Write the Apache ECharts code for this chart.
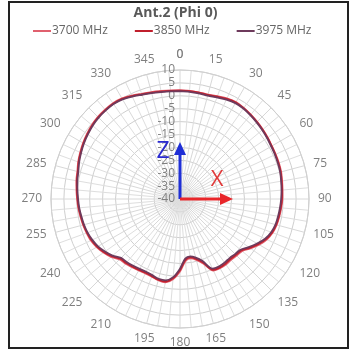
<!DOCTYPE html>
<html>
<head>
<meta charset="utf-8">
<script src="https://cdn.jsdelivr.net/npm/echarts@6/dist/echarts.min.js"></script>
<style>
  html, body { margin: 0; padding: 0; background: #fff; }
  #chart { width: 351px; height: 352px; }
</style>
</head>
<body>
<div id="chart"></div>
<script>
// angles every 5 degrees, gain in dBi
var angles = [];
for (var a = 0; a < 360; a += 5) angles.push(a);

// angle tick labels
var angleLabels = [0, 15, 30, 45, 60, 75, 90, 105, 120, 135, 150, 165,
  180, 195, 210, 225, 240, 255, 270, 285, 300, 315, 330, 345];

var seriesNames = ["3700 MHz", "3850 MHz", "3975 MHz"];
var seriesColors = ["#e0606e", "#c01f2c", "#6e3a5c"];

var gain3700 = [
  2.2, 2.1, 2.0, 1.9, 2.4, 3.0, 3.4, 3.1, 2.7, 2.3, 1.9, 1.5,
  1.1, 0.9, 0.8, 0.6, 0.2, -0.1, -0.3, -0.6, -0.9, -1.2, -1.8, -2.9,
  -4.6, -6.6, -8.6, -9.0, -9.2, -9.0, -9.0, -9.4, -13.3, -15.6, -16.6, -15.8,
  -11.9, -8.8, -7.2, -7.4, -8.0, -8.2, -8.0, -7.7, -7.2, -6.9, -5.1, -3.8,
  -2.7, -1.9, -1.5, -1.1, -0.8, -0.4, -0.1, 0.3, 0.8, 1.2, 2.0, 2.7,
  3.4, 4.0, 4.6, 5.0, 5.2, 5.3, 5.0, 4.2, 3.4, 2.9, 2.5, 2.3
];

var gain3850 = [
  2.0, 2.0, 1.9, 1.8, 2.2, 2.8, 3.2, 3.0, 2.6, 2.2, 1.8, 1.4,
  1.0, 0.8, 0.6, 0.4, 0.0, -0.3, -0.5, -0.8, -1.1, -1.4, -2.0, -3.2,
  -5.0, -7.0, -9.0, -9.4, -9.6, -9.4, -9.3, -9.7, -13.8, -16.0, -17.0, -16.3,
  -12.5, -9.2, -7.5, -7.6, -8.2, -8.5, -8.3, -8.0, -7.6, -7.3, -5.5, -4.1,
  -3.0, -2.2, -1.7, -1.3, -1.0, -0.6, -0.3, 0.1, 0.6, 1.0, 1.8, 2.5,
  3.2, 3.8, 4.4, 4.8, 5.0, 5.1, 4.8, 4.0, 3.2, 2.7, 2.3, 2.1
];

var gain3975 = [
  1.8, 1.7, 1.6, 1.5, 1.9, 2.5, 2.9, 2.8, 2.4, 2.0, 1.6, 1.2,
  0.8, 0.6, 0.4, 0.2, -0.2, -0.5, -0.8, -1.1, -1.4, -1.7, -2.4, -3.6,
  -5.5, -7.5, -9.4, -9.8, -10.1, -9.9, -9.8, -10.2, -14.4, -16.5, -17.4, -16.8,
  -13.0, -9.6, -8.0, -8.0, -8.6, -8.9, -8.7, -8.4, -8.0, -7.7, -5.9, -4.5,
  -3.3, -2.5, -1.9, -1.5, -1.2, -0.8, -0.5, -0.1, 0.4, 0.8, 1.6, 2.3,
  3.0, 3.6, 4.2, 4.6, 4.8, 4.9, 4.6, 3.8, 3.0, 2.5, 2.1, 1.9
];

var allGains = [gain3700, gain3850, gain3975];

function toPolar(gains) {
  var pts = gains.map(function (g, i) { return [g, angles[i]]; });
  pts.push([gains[0], 360]);
  return pts;
}

var cx = 180, cy = 199, R = 129;

var chart = echarts.init(document.getElementById("chart"), null, { renderer: "canvas" });

var option = {
  backgroundColor: "#fff",
  animation: false,
  textStyle: { fontFamily: "Open Sans" },
  title: {
    text: "Ant.2 (Phi 0)",
    left: "center",
    top: 1,
    textStyle: { fontSize: 14, fontWeight: "bold", color: "#595959", fontFamily: "Open Sans" }
  },
  legend: {
    top: 20,
    left: 28,
    icon: "rect",
    itemWidth: 18,
    itemHeight: 2,
    itemGap: 27,
    textStyle: { fontSize: 12, color: "#666", padding: [0, 0, 0, -4] },
    data: seriesNames
  },
  polar: { center: [cx, cy], radius: R },
  angleAxis: {
    type: "value",
    min: 0,
    max: 360,
    interval: 15,
    startAngle: 90,
    clockwise: true,
    axisLine: { lineStyle: { color: "#d0d0d0" } },
    axisTick: { show: false },
    axisLabel: {
      color: "#7f7f7f",
      fontSize: 12,
      margin: 9,
      hideOverlap: false,
      customValues: angleLabels
    },
    splitLine: { lineStyle: { color: "#d8d8d8", width: 1 } },
    minorTick: { show: false, splitNumber: 3 },
    minorSplitLine: { show: true, lineStyle: { color: "#dedede", width: 1 } }
  },
  radiusAxis: {
    min: -40,
    max: 10,
    interval: 5,
    axisLine: { show: false },
    axisTick: { show: false },
    axisLabel: { color: "#7f7f7f", fontSize: 12, margin: 5, hideOverlap: false },
    splitLine: { show: true, lineStyle: { color: "#cfcfcf", width: 1 } }
  },
  series: seriesNames.map(function (name, i) {
    return {
      name: name,
      type: "line",
      coordinateSystem: "polar",
      showSymbol: false,
      smooth: 0.3,
      color: seriesColors[i],
      lineStyle: { width: 1.8 },
      data: toPolar(allGains[i])
    };
  }),
  graphic: [
    // outer frame
    { type: "rect", shape: { x: 9, y: 2, width: 339, height: 346 }, style: { fill: "none", stroke: "#222", lineWidth: 2 }, z: 100 },
    // the 0 degree label is dropped by the angle axis (it coincides with 360)
    { type: "text", x: cx, y: cy - R - 15, style: { text: String(angleLabels[0]), fill: "#7f7f7f", fontSize: 12, fontFamily: "Open Sans", align: "center", verticalAlign: "middle" }, z: 50 },
    // Z axis arrow
    { type: "line", shape: { x1: cx, y1: cy, x2: cx, y2: 152 }, style: { stroke: "#1f2fd6", lineWidth: 3 }, z: 100 },
    { type: "polygon", shape: { points: [[cx, 142], [cx - 6, 155], [cx + 6, 155]] }, style: { fill: "#1f2fd6" }, z: 100 },
    { type: "text", x: 163, y: 151, style: { text: "Z", fill: "#2a2ad0", fontSize: 23, fontFamily: "Open Sans", align: "center", verticalAlign: "middle" }, z: 100 },
    // X axis arrow
    { type: "line", shape: { x1: cx, y1: cy, x2: 222, y2: cy }, style: { stroke: "#e8262a", lineWidth: 3 }, z: 100 },
    { type: "polygon", shape: { points: [[233, cy], [220, cy - 6], [220, cy + 6]] }, style: { fill: "#e8262a" }, z: 100 },
    { type: "text", x: 217, y: 180, style: { text: "X", fill: "#e03a3a", fontSize: 22, fontFamily: "Open Sans", align: "center", verticalAlign: "middle" }, z: 100 }
  ]
};

chart.setOption(option);
</script>
</body>
</html>
